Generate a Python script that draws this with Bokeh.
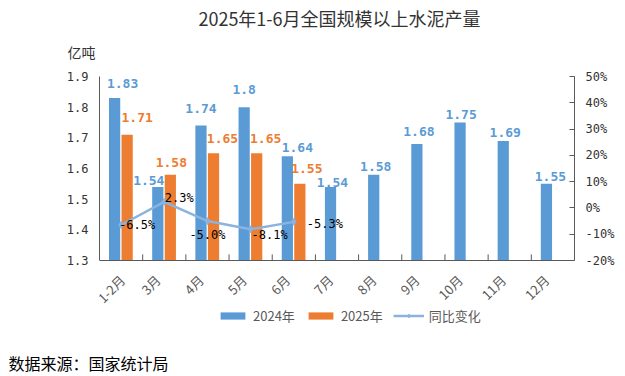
import math
from bokeh.plotting import figure
from bokeh.layouts import column, row
from bokeh.models import (Range1d, LinearAxis, FixedTicker, Label, Legend,
                          LegendItem, ColumnDataSource, PrintfTickFormatter,
                          CustomJSTickFormatter)
from bokeh.embed import file_html
from bokeh.resources import INLINE
from bokeh.core.properties import value

# ---------------- data ----------------
categories = ["1-2月", "3月", "4月", "5月", "6月", "7月", "8月", "9月", "10月", "11月", "12月"]
prod_2024 = [1.83, 1.54, 1.74, 1.80, 1.64, 1.54, 1.58, 1.68, 1.75, 1.69, 1.55]
prod_2025 = [1.71, 1.58, 1.65, 1.65, 1.55]
yoy_change = [-6.5, 2.3, -5.0, -8.1, -5.3]
left_ticks = [1.3, 1.4, 1.5, 1.6, 1.7, 1.8, 1.9]
right_ticks = [-20, -10, 0, 10, 20, 30, 40, 50]
series_names = ["2024年", "2025年", "同比变化"]
title_text = "2025年1-6月全国规模以上水泥产量"
unit_text = "亿吨"
source_text = "数据来源：国家统计局"

# label placement (screen px offsets)
dx_2024 = [8, -9, 0, 0, 10, 2, 2, 2, 1, 2, 4]
dy_2024 = [-14, -6, -17, -18, -9, -4, -8, -12, -8, -8, -7]
dx_2025 = [10, 1, 9, 9, 7]
dy_2025 = [-17, -12, -15, -15, -15]
dx_yoy = [16, 15, 0, 19, 31]
dy_yoy = [0, -4, 14, 6, 2]
# category-label shift to the left (in category widths)
label_shift = [-0.03, 0.15, 0.15, 0.15, 0.15, 0.15, 0.15, 0.15, 0.15, 0.15, 0.15]

BLUE = "#5B9BD5"
ORANGE = "#ED7D31"
LINE = "#8AB3DF"
AXIS = "#595959"
CJK = "Noto Sans CJK SC"
MONO = "DejaVu Sans Mono"
W = 620
PLOT_H = 184        # px between top and bottom tick of the value axes
EXTRA_H = 78        # px of frame below the category axis (legend area)
OFF24, OFF25, BAR_W = -0.15, 0.14, 0.26


def blank_fig(h):
    f = figure(width=W, height=h, output_backend="svg", toolbar_location=None,
               x_axis_location=None, y_axis_location=None,
               x_range=Range1d(0, 1), y_range=Range1d(0, 1),
               min_border=0, min_border_left=0, min_border_right=0,
               min_border_top=0, min_border_bottom=0)
    f.xgrid.visible = False
    f.ygrid.visible = False
    f.outline_line_color = None
    return f


# ---------------- top: title + unit ----------------
top = blank_fig(66)
top.add_layout(Label(x=339, y=49, x_units="screen", y_units="screen", text=title_text,
                     text_align="center", text_baseline="middle", text_font=CJK,
                     text_font_size="18px", text_color="#333333"))
top.add_layout(Label(x=67, y=15, x_units="screen", y_units="screen", text=unit_text,
                     text_align="left", text_baseline="middle", text_font=CJK,
                     text_font_size="14px", text_color="#333333"))

# ---------------- main chart ----------------
ncat = len(categories)
n25 = len(prod_2025)
centers = [i + 0.5 for i in range(ncat)]
src24 = ColumnDataSource(dict(x=[c + OFF24 for c in centers], v=prod_2024,
                              lbl=[f"{v:g}" for v in prod_2024],
                              dx=dx_2024, dy=dy_2024,
                              edge=[c + 0.5 for c in centers],
                              base=[left_ticks[0]] * ncat,
                              tick=[left_ticks[0] + 0.02] * ncat))
src25 = ColumnDataSource(dict(x=[c + OFF25 for c in centers[:n25]], xc=centers[:n25],
                              v=prod_2025,
                              lbl=[f"{v:g}" for v in prod_2025],
                              dx=dx_2025, dy=dy_2025,
                              yoy=yoy_change,
                              ylbl=[f"{v:.1f}%" for v in yoy_change],
                              ydx=dx_yoy, ydy=dy_yoy))

lo, hi = left_ticks[0], left_ticks[-1]
rlo, rhi = right_ticks[0], right_ticks[-1]
y_start = lo - (hi - lo) * EXTRA_H / PLOT_H
r_start = rlo - (rhi - rlo) * EXTRA_H / PLOT_H

p = figure(width=W, height=10 + PLOT_H + EXTRA_H, x_range=Range1d(0, ncat),
           y_range=Range1d(y_start, hi), x_axis_location=None,
           output_backend="svg", toolbar_location=None,
           min_border_left=99, min_border_right=W - 99 - 475,
           min_border_top=10, min_border_bottom=0)
p.xgrid.visible = False
p.ygrid.visible = False
p.outline_line_color = None
p.extra_y_ranges = {"pct": Range1d(r_start, rhi)}

# category axis (labels near category centres)
label_ticks = [c - s for c, s in zip(centers, label_shift)]
xa = LinearAxis(ticker=FixedTicker(ticks=label_ticks),
                formatter=CustomJSTickFormatter(args=dict(labels=categories),
                                                code="return labels[Math.floor(tick)];"),
                fixed_location=lo)
xa.axis_line_color = AXIS
xa.major_tick_line_color = None
xa.minor_tick_line_color = None
xa.major_tick_out = 0
xa.major_tick_in = 0
xa.major_label_orientation = math.pi / 4
xa.major_label_text_font = CJK
xa.major_label_text_font_size = "13px"
xa.major_label_text_color = AXIS
xa.major_label_standoff = 17
p.add_layout(xa, "below")

p.yaxis.ticker = FixedTicker(ticks=left_ticks)
p.yaxis.bounds = (lo, hi)
p.yaxis.formatter = PrintfTickFormatter(format="%.1f")
p.yaxis.axis_line_color = AXIS
p.yaxis.major_tick_line_color = None
p.yaxis.major_tick_out = 0
p.yaxis.major_tick_in = 0
p.yaxis.minor_tick_line_color = None
p.yaxis.major_label_text_font = MONO
p.yaxis.major_label_text_font_size = "12px"
p.yaxis.major_label_text_color = "#333333"
p.yaxis.major_label_standoff = 11

ax_r = LinearAxis(y_range_name="pct", ticker=FixedTicker(ticks=right_ticks),
                  formatter=PrintfTickFormatter(format="%d%%"), bounds=(rlo, rhi))
ax_r.axis_line_color = AXIS
ax_r.major_tick_line_color = AXIS
ax_r.major_tick_in = 5
ax_r.major_tick_out = 0
ax_r.minor_tick_line_color = None
ax_r.major_label_text_font = MONO
ax_r.major_label_text_font_size = "12px"
ax_r.major_label_text_color = "#333333"
ax_r.major_label_standoff = 11
p.add_layout(ax_r, "right")

# category boundary ticks (inside)
p.segment(x0="edge", x1="edge", y0="base", y1="tick", source=src24,
          line_color=AXIS, line_width=1)

b24 = p.vbar(x="x", top="v", bottom=lo, width=BAR_W, source=src24,
             fill_color=BLUE, line_color=None)
b25 = p.vbar(x="x", top="v", bottom=lo, width=BAR_W, source=src25,
             fill_color=ORANGE, line_color=None)

ln = p.line(x="xc", y="yoy", y_range_name="pct", source=src25, line_color=LINE, line_width=2.5)
mk = p.scatter(x="xc", y="yoy", y_range_name="pct", source=src25, marker="diamond",
               size=7, fill_color=LINE, line_color=LINE)

p.text(x="x", y="v", text="lbl", source=src24,
       x_offset="dx", y_offset="dy", text_align="center", text_baseline="middle",
       text_font=value(MONO), text_font_style="bold", text_font_size="13px", text_color=BLUE)
p.text(x="x", y="v", text="lbl", source=src25,
       x_offset="dx", y_offset="dy", text_align="center", text_baseline="middle",
       text_font=value(MONO), text_font_style="bold", text_font_size="13px", text_color=ORANGE)
p.text(x="xc", y="yoy", y_range_name="pct", text="ylbl", source=src25,
       x_offset="ydx", y_offset="ydy", text_align="center", text_baseline="middle",
       text_font=value(MONO), text_font_size="12px", text_color="#000000")

legend = Legend(items=[LegendItem(label=series_names[0], renderers=[b24]),
                       LegendItem(label=series_names[1], renderers=[b25]),
                       LegendItem(label=series_names[2], renderers=[ln, mk])],
                orientation="horizontal", location=(118, 13),
                glyph_width=31, glyph_height=9, label_standoff=5, spacing=10,
                label_height=16, padding=0, margin=0, border_line_color=None,
                background_fill_alpha=0,
                label_text_font=CJK, label_text_font_size="13px", label_text_color=AXIS)
p.add_layout(legend)

# ---------------- bottom: source ----------------
bot = blank_fig(36)
bot.add_layout(Label(x=8, y=12, x_units="screen", y_units="screen", text=source_text,
                     text_align="left", text_baseline="middle", text_font=CJK,
                     text_font_size="16px", text_color="#000000"))

layout = column(top, row(p), bot, spacing=0)
open("out.html", "w").write(file_html(layout, INLINE))
